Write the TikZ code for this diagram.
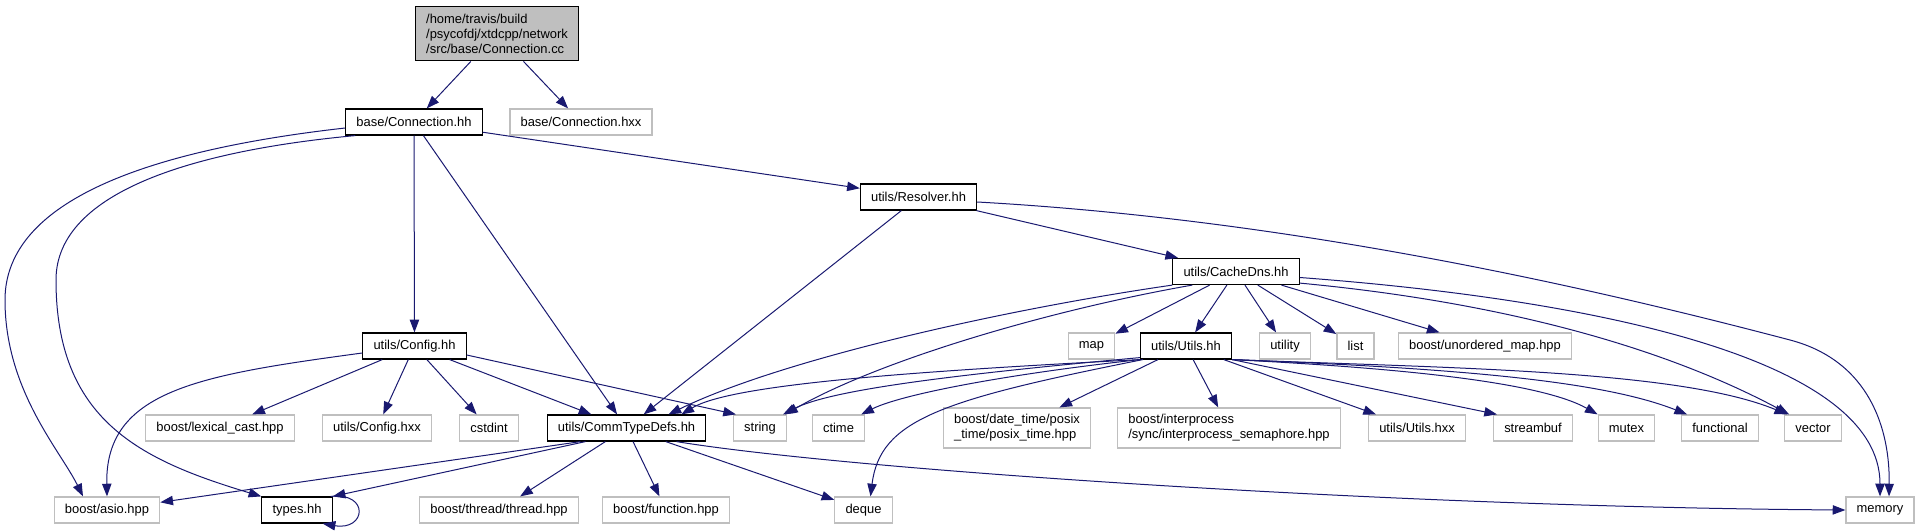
\documentclass[tikz,border=0pt]{standalone}
\usepackage{fontspec}
\setmainfont{Liberation Sans}
\usetikzlibrary{arrows.meta,calc}
\definecolor{edgeblue}{HTML}{191970}
\definecolor{extgray}{HTML}{BFBFBF}
\definecolor{rootgray}{HTML}{BFBFBF}
\begin{document}
\begin{tikzpicture}[x=0.75pt, y=-0.75pt, >={Triangle[length=9.5pt,width=7pt]},
    file/.style={rectangle, align=left, inner xsep=8pt, inner ysep=2pt, minimum height=19.5pt,
      font=\fontsize{9.7pt}{11.25pt}\selectfont},
    doc/.style={file, draw=black, line width=0.9pt, fill=white},
    ext/.style={file, draw=extgray, line width=0.9pt, fill=white},
    dep/.style={->, draw=edgeblue, line width=0.75pt}]
    \useasboundingbox (0,0) rectangle (1920,531);

    % 根文件
    \node[doc, fill=rootgray, minimum height=41pt] (root) at (497,33.5) {/home/travis/build\\/psycofdj/xtdcpp/network\\/src/base/Connection.cc};

    % 第二层
    \node[doc] (conn) at (414,122) {base/Connection.hh};
    \node[ext] (connx) at (581,122) {base/Connection.hxx};
    \node[doc] (resolver) at (918.5,197) {utils/Resolver.hh};
    \node[doc] (cachedns) at (1236,271.5) {utils/CacheDns.hh};

    % 第三层
    \node[doc] (config) at (414.5,346) {utils/Config.hh};
    \node[ext] (map) at (1091.5,346) {map};
    \node[doc] (utils) at (1186,346) {utils/Utils.hh};
    \node[ext] (utility) at (1285,346) {utility};
    \node[ext] (list) at (1355.5,346) {list};
    \node[ext] (umap) at (1485,346) {boost/unordered\_map.hpp};

    % 第四层
    \node[ext] (lexcast) at (220,428) {boost/lexical\_cast.hpp};
    \node[ext] (configx) at (377,428) {utils/Config.hxx};
    \node[ext] (cstdint) at (489,428) {cstdint};
    \node[doc] (commtype) at (626.5,428) {utils/CommTypeDefs.hh};
    \node[ext] (string) at (760,428) {string};
    \node[ext] (ctime) at (838.5,428) {ctime};
    \node[ext, minimum height=30pt] (datetime) at (1017,428) {boost/date\_time/posix\\\_time/posix\_time.hpp};
    \node[ext, minimum height=30pt] (interproc) at (1229,428) {boost/interprocess\\/sync/interprocess\_semaphore.hpp};
    \node[ext] (utilsx) at (1417,428) {utils/Utils.hxx};
    \node[ext] (streambuf) at (1533,428) {streambuf};
    \node[ext] (mutex) at (1626.5,428) {mutex};
    \node[ext] (functional) at (1720,428) {functional};
    \node[ext] (vector) at (1813,428) {vector};

    % 底层
    \node[ext] (asio) at (107,510) {boost/asio.hpp};
    \node[doc] (types) at (297,510) {types.hh};
    \node[ext] (thread) at (499,510) {boost/thread/thread.hpp};
    \node[ext] (function) at (666,510) {boost/function.hpp};
    \node[ext] (deque) at (863.5,510) {deque};
    \node[ext] (memory) at (1880,510) {memory};

    % 根文件的依赖
    \draw[dep] (root) -- (conn);
    \draw[dep] (root) -- (connx);

    % base/Connection.hh
    \draw[dep] ($(conn.west)+(0,6)$) .. controls (150,150) and (5,200) .. (5,300) .. controls (5,390) and (60,450) .. ($(asio.north)+(-24,0)$);
    \draw[dep] ($(conn.south west)+(10,0)$) .. controls (200,150) and (56,190) .. (56,280) .. controls (56,420) and (140,460) .. (types.north west);
    \draw[dep] (conn) -- (config);
    \draw[dep] (conn) -- (commtype);
    \draw[dep] (conn) -- (resolver);

    % utils/Config.hh
    \draw[dep] ($(config.west)+(0,7)$) .. controls (200,375) and (105,390) .. (asio.north);
    \draw[dep] (config) -- (lexcast);
    \draw[dep] (config) -- (configx);
    \draw[dep] (config) -- (cstdint);
    \draw[dep] (config) -- (commtype);
    \draw[dep] ($(config.east)+(0,9)$) -- ($(string.north west)+(3,0)$);

    % utils/CommTypeDefs.hh
    \draw[dep] ($(commtype.south)+(-46,0)$) -- (asio);
    \draw[dep] ($(commtype.south)+(-41,0)$) -- (types.north east);
    \draw[dep] (commtype) -- (thread);
    \draw[dep] (commtype) -- (function);
    \draw[dep] (commtype) -- (deque);
    \draw[dep] ($(commtype.south)+(50,0)$) .. controls (850,470) and (1400,507) .. (memory.west);

    % types.hh
    \draw[dep] ($(types.north east)+(-2,0)$) .. controls (370,492) and (366,531) .. ($(types.south east)+(-10,0)$);

    % utils/Resolver.hh
    \draw[dep] (resolver) -- (commtype);
    \draw[dep] (resolver) -- (cachedns);
    \draw[dep] ($(resolver.east)+(0,5)$) .. controls (1300,220) and (1600,290) .. (1790,340) .. controls (1870,361) and (1890,430) .. ($(memory.north)+(9,0)$);

    % utils/CacheDns.hh
    \draw[dep] (cachedns.south west) .. controls (1000,310) and (780,360) .. ($(commtype.north)+(42,0)$);
    \draw[dep] ($(cachedns.south west)+(20,0)$) .. controls (1050,310) and (880,360) .. ($(string.north east)+(-2,0)$);
    \draw[dep] (cachedns) -- (map);
    \draw[dep] (cachedns) -- (utils);
    \draw[dep] (cachedns) -- (utility);
    \draw[dep] (cachedns) -- (list);
    \draw[dep] (cachedns) -- (umap);
    \draw[dep] ($(cachedns.south east)+(0,-2)$) .. controls (1480,300) and (1650,340) .. ($(vector.north west)+(5,0)$);
    \draw[dep] ($(cachedns.east)+(0,6)$) .. controls (1600,300) and (1880,360) .. (memory.north);

    % utils/Utils.hh
    \draw[dep] (utils.south west) .. controls (900,372) and (730,385) .. ($(commtype.north east)+(-25,0)$);
    \draw[dep] ($(utils.south west)+(0,-2)$) .. controls (950,375) and (830,390) .. ($(string.north east)+(-4,0)$);
    \draw[dep] (utils.south west) .. controls (1000,375) and (900,395) .. ($(ctime.north east)+(-4,0)$);
    \draw[dep] ($(utils.south west)+(3,0)$) .. controls (940,400) and (880,420) .. ($(deque.north)+(7,0)$);
    \draw[dep] (utils) -- (datetime);
    \draw[dep] (utils) -- (interproc);
    \draw[dep] (utils) -- ($(utilsx.north west)+(8,0)$);
    \draw[dep] (utils.south east) -- ($(streambuf.north west)+(4,0)$);
    \draw[dep] (utils.south east) .. controls (1400,368) and (1540,382) .. (mutex.north west);
    \draw[dep] (utils.south east) .. controls (1450,368) and (1600,380) .. ($(functional.north west)+(6,0)$);
    \draw[dep] (utils.south east) .. controls (1450,368) and (1680,370) .. ($(vector.north west)+(3,0)$);
\end{tikzpicture}
\end{document}
